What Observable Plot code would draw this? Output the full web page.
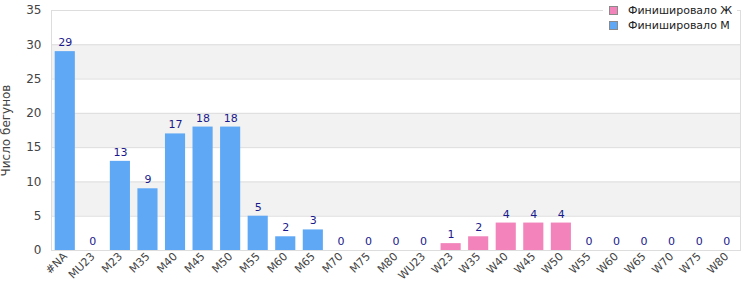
<!DOCTYPE html>
<html><head><meta charset="utf-8">
<script src="https://cdn.jsdelivr.net/npm/d3@7"></script>
<script src="https://cdn.jsdelivr.net/npm/@observablehq/plot@0.6"></script>
<style>
body{margin:0;background:#fff;font-family:"DejaVu Sans",sans-serif;}
#wrap{position:relative;width:750px;height:300px;}
#legend{position:absolute;left:603px;top:0;width:134px;height:33px;background:#fff;font-size:11px;color:#222;}
.item{position:absolute;left:6px;height:12px;display:flex;align-items:center;white-space:nowrap;}
.sw{width:7px;height:7px;border:1px solid #8a8a8a;margin-right:10px;}
</style></head><body>
<div id="wrap"><div id="chart"></div><div id="legend"></div></div>
<script>
const categories = ["#NA","MU23","M23","M35","M40","M45","M50","M55","M60","M65","M70","M75","M80","WU23","W23","W35","W40","W45","W50","W55","W60","W65","W70","W75","W80"];
const counts = [29,0,13,9,17,18,18,5,2,3,0,0,0,0,1,2,4,4,4,0,0,0,0,0,0];
const seriesNames = ["Финишировало Ж","Финишировало М"];
const seriesColors = ["#f283bb","#5ea8f5"];
const yTicks = [0,5,10,15,20,25,30,35];
const yLabel = "Число бегунов";

const data = categories.map((c, i) => ({cat: c, n: counts[i], s: c.startsWith("W") ? seriesNames[0] : seriesNames[1]}));
const bands = yTicks.filter((t, i) => i % 2 === 1 && i < yTicks.length - 1).map(t => ({y1: t, y2: t + 5}));

const chart = Plot.plot({
  width: 750, height: 300,
  marginLeft: 51, marginRight: 10, marginTop: 10, marginBottom: 50,
  style: {fontFamily: "DejaVu Sans, sans-serif", fontSize: "11px", color: "#444", background: "#fff"},
  x: {type: "band", domain: categories, paddingInner: 0.27, paddingOuter: 0.135, round: false},
  y: {domain: [0, 35]},
  color: {domain: seriesNames, range: seriesColors},
  marks: [
    Plot.rect(bands, {y1: "y1", y2: "y2", fill: "#f2f2f2"}),
    Plot.gridY(yTicks, {stroke: "#dddddd", strokeOpacity: 1}),
    Plot.frame({stroke: "#dddddd"}),
    Plot.barY(data, {x: "cat", y: "n", fill: "s"}),
    Plot.text(data, {x: "cat", y: "n", text: d => String(d.n), dy: -9, fill: "#1a1a8c", fontSize: 11}),
    Plot.axisY(yTicks, {tickSize: 0, tickPadding: 10, fontSize: 12, fill: "#444", label: yLabel, labelAnchor: "center", labelOffset: 50, labelArrow: "none"}),
    Plot.axisX({tickSize: 0, tickRotate: -45, tickPadding: 4, fontSize: 11, fill: "#444", label: null})
  ]
});
document.getElementById("chart").appendChild(chart);

const legend = document.getElementById("legend");
seriesNames.forEach((name, i) => {
  const item = document.createElement("div");
  item.className = "item";
  item.style.top = (4 + i * 15) + "px";
  const sw = document.createElement("span");
  sw.className = "sw";
  sw.style.background = seriesColors[i];
  item.appendChild(sw);
  item.appendChild(document.createTextNode(name));
  legend.appendChild(item);
});
</script>
</body></html>
